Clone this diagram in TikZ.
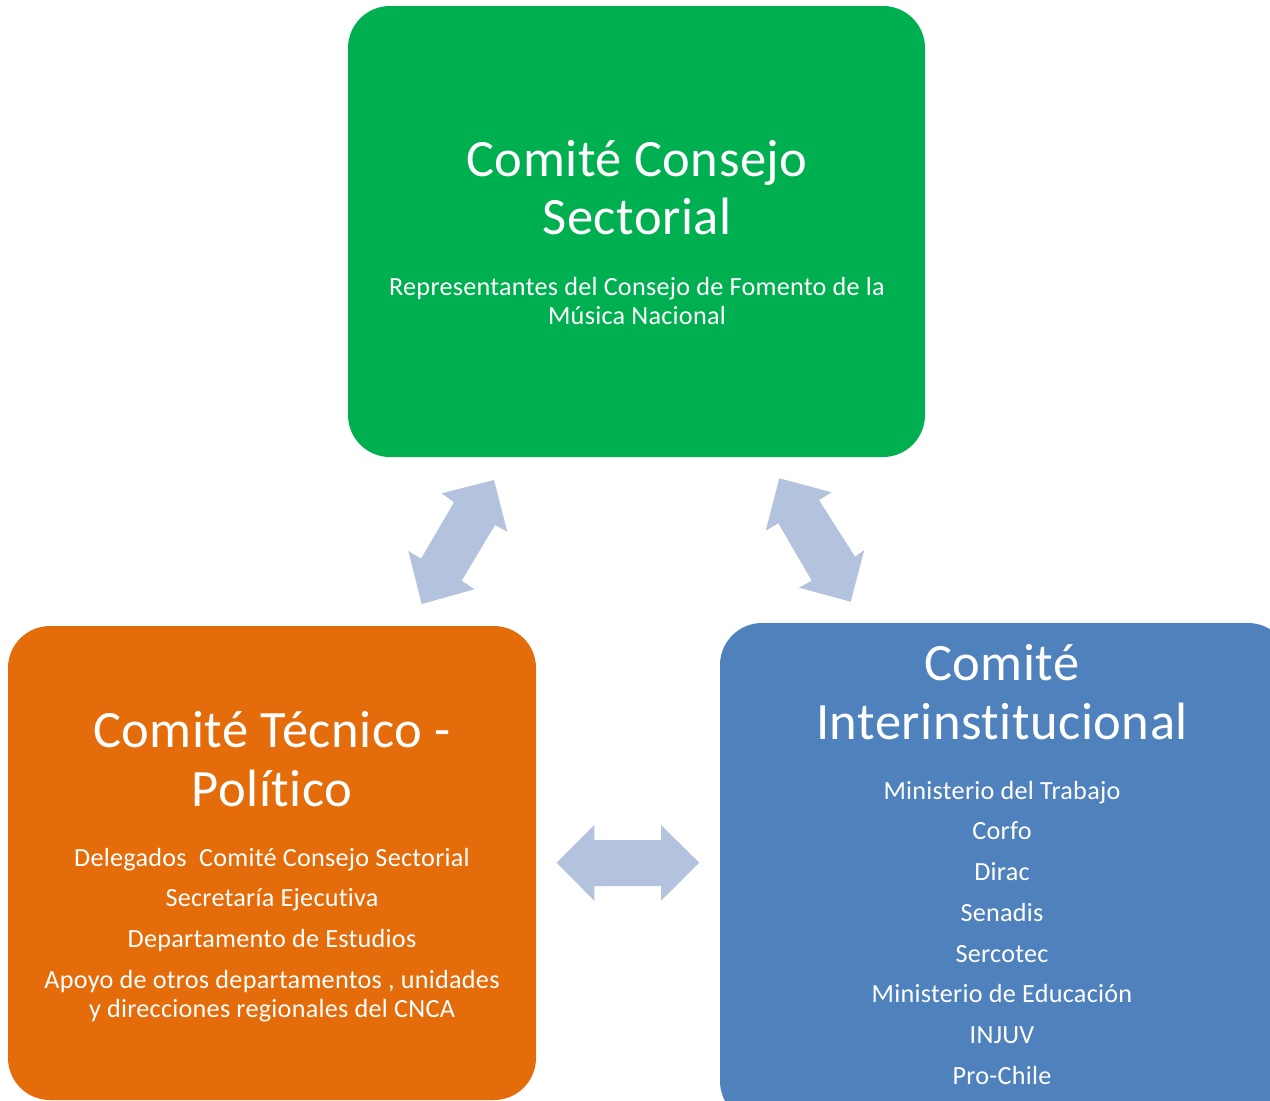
\documentclass[tikz,border=0pt]{standalone}
\usepackage{fontspec}
\setmainfont{Carlito}[Ligatures=NoCommon, LetterSpace=1.0]
\definecolor{cgreen}{HTML}{00B050}
\definecolor{corange}{HTML}{E46C0A}
\definecolor{cblue}{HTML}{4F81BD}
\definecolor{carrow}{HTML}{B3C3DD}
\newcommand\bigtxt{\fontsize{52.5}{57.5}\selectfont}
\newcommand\smalltxt{\fontsize{26.2}{29}\selectfont}
\tikzset{
  panel/.style={rounded corners=42pt, inner sep=0pt, draw=none},
  ttl/.style={text=white, inner sep=0pt, anchor=base, font=\bigtxt},
  itm/.style={text=white, inner sep=0pt, anchor=base, font=\smalltxt},
  blockarrow/.style={fill=carrow, draw=none}
}
\begin{document}
\begin{tikzpicture}[x=1pt,y=-1pt]
\useasboundingbox (0,0) rectangle (1270,1101);
\clip (0,0) rectangle (1270,1101);
% panels
\node[panel, fill=cgreen, minimum width=577pt, minimum height=451pt] (green) at (636.5,231.5) {};
\node[panel, fill=corange, minimum width=528pt, minimum height=474pt] (orange) at (272,863) {};
\node[panel, fill=cblue, minimum width=570pt, minimum height=500pt] (blue) at (1005,873) {};
% green text
\node[ttl] (g1) at (637,176.7) {Comité Consejo};
\node[ttl] (g2) at (637,234.7) {Sectorial};
\node[itm] (g3) at (637,295) {Representantes del Consejo de Fomento de la};
\node[itm] (g4) at (637,324) {Música Nacional};
% orange text
\node[ttl] (o1) at (272,747.7) {Comité Técnico -};
\node[ttl] (o2) at (272,806.7) {Político};
\node[itm] (o3) at (272,866) {Delegados\ \ Comité Consejo Sectorial};
\node[itm] (o4) at (272,906) {Secretaría Ejecutiva};
\node[itm] (o5) at (272,947) {Departamento de Estudios};
\node[itm] (o6) at (272,988) {Apoyo de otros departamentos , unidades};
\node[itm] (o7) at (272,1017) {y direcciones regionales del CNCA};
% blue text
\node[ttl] (b1) at (1002,680.7) {Comité};
\node[ttl] (b2) at (1002,739.7) {Interinstitucional};
\node[itm] (b3) at (1002,799) {Ministerio del Trabajo};
\node[itm] (b4) at (1002,839) {Corfo};
\node[itm] (b5) at (1002,880) {Dirac};
\node[itm] (b6) at (1002,921) {Senadis};
\node[itm] (b7) at (1002,962) {Sercotec};
\node[itm] (b8) at (1002,1002) {Ministerio de Educación};
\node[itm] (b9) at (1002,1043) {INJUV};
\node[itm] (b10) at (1002,1084) {Pro-Chile};
% block arrows
\fill[blockarrow] (494,480) -- (507.3,531.7) -- (495,525) -- (461.7,580.7) -- (474.3,589.3)
  -- (421.7,604) -- (408.3,551) -- (421,558.7) -- (454,502.3) -- (441.7,493.3) -- cycle;
\fill[blockarrow] (779.3,478.3) -- (831.7,492.3) -- (819,500) -- (855,556.7) -- (864.3,550)
  -- (850.7,601.7) -- (799,587.7) -- (811.7,580.7) -- (778.3,523.3) -- (765.7,530.7) -- cycle;
\fill[blockarrow] (556.7,862.7) -- (594.3,825) -- (594.3,840) -- (661,840) -- (661,825)
  -- (699.3,862.7) -- (661,900.7) -- (661,886) -- (594.3,886) -- (594.3,900.7) -- cycle;
\end{tikzpicture}
\end{document}
